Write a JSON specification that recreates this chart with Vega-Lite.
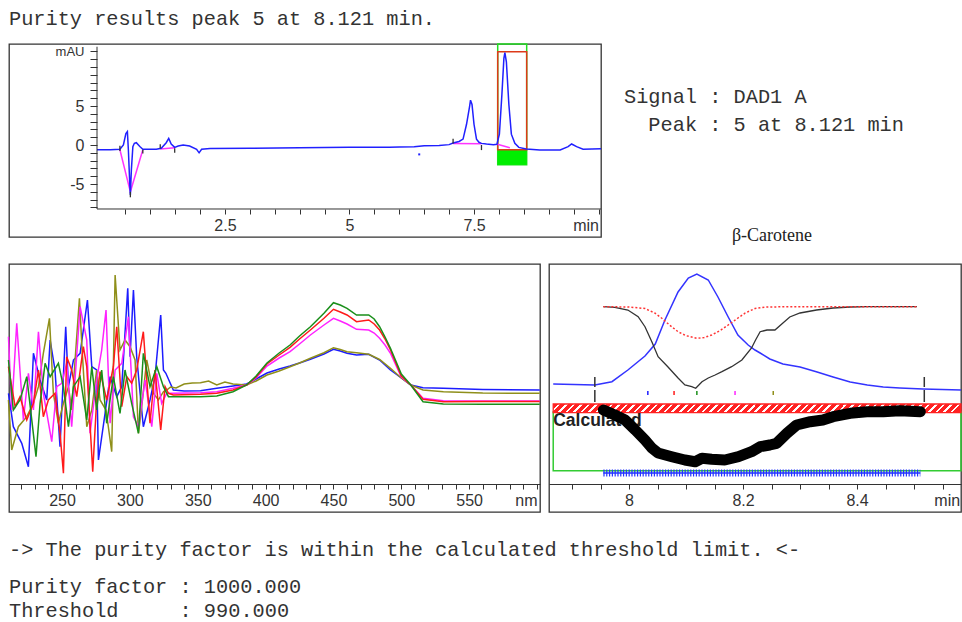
{
  "$schema": "https://vega.github.io/schema/vega-lite/v6.json",
  "background": "white",
  "padding": {"left": 4, "top": 8, "right": 0, "bottom": 0},
  "autosize": {"type": "pad"},
  "spacing": 18,
  "config": {
    "view": {"stroke": "#333333", "strokeWidth": 1.3},
    "axis": {"grid": false, "labelFont": "Liberation Sans", "labelFontSize": 16, "labelColor": "#333333", "tickColor": "#333333", "domainColor": "#333333", "tickSize": 5, "labelPadding": 3, "labelFlush": false, "labelOverlap": false}
  },
  "datasets": {
    "chrom": [
      {"t": -0.07, "a": -0.62}, {"t": 0.2, "a": -0.6}, {"t": 0.39, "a": -0.55}, {"t": 0.46, "a": 0}, {"t": 0.51, "a": 1.48}, {"t": 0.54, "a": 1.72}, {"t": 0.56, "a": -0.6}, {"t": 0.59, "a": -5.3}, {"t": 0.6, "a": -6.4}, {"t": 0.62, "a": -3.2}, {"t": 0.65, "a": -0.2}, {"t": 0.68, "a": 0.22}, {"t": 0.72, "a": 0.3}, {"t": 0.79, "a": -0.2}, {"t": 0.85, "a": -0.55}, {"t": 1.12, "a": -0.55}, {"t": 1.22, "a": -0.42}, {"t": 1.32, "a": 0.3}, {"t": 1.37, "a": 0.85}, {"t": 1.42, "a": 0.13}, {"t": 1.49, "a": -0.3}, {"t": 1.56, "a": -0.13}, {"t": 1.66, "a": 0}, {"t": 1.79, "a": -0.13}, {"t": 1.93, "a": -0.55}, {"t": 1.98, "a": -1.0}, {"t": 2.03, "a": -0.55}, {"t": 2.2, "a": -0.45}, {"t": 3.0, "a": -0.42}, {"t": 4.0, "a": -0.35}, {"t": 5.0, "a": -0.3}, {"t": 5.8, "a": -0.28}, {"t": 6.0, "a": -0.25}, {"t": 6.3, "a": -0.22}, {"t": 6.5, "a": -0.1}, {"t": 6.8, "a": -0.05}, {"t": 7.0, "a": 0.05}, {"t": 7.08, "a": 0.25}, {"t": 7.2, "a": 0.45}, {"t": 7.28, "a": 0.76}, {"t": 7.35, "a": 2.66}, {"t": 7.41, "a": 4.9}, {"t": 7.43, "a": 5.75}, {"t": 7.46, "a": 5.2}, {"t": 7.5, "a": 2.66}, {"t": 7.55, "a": 0.76}, {"t": 7.6, "a": 0.35}, {"t": 7.65, "a": 0.21}, {"t": 7.75, "a": 0.13}, {"t": 7.89, "a": 0.04}, {"t": 7.96, "a": 0.1}, {"t": 8.01, "a": 1.39}, {"t": 8.06, "a": 6.46}, {"t": 8.1, "a": 11.1}, {"t": 8.12, "a": 11.85}, {"t": 8.15, "a": 10.67}, {"t": 8.2, "a": 5.19}, {"t": 8.25, "a": 1.39}, {"t": 8.32, "a": 0.21}, {"t": 8.4, "a": -0.3}, {"t": 8.55, "a": -0.5}, {"t": 8.82, "a": -0.63}, {"t": 9.23, "a": -0.63}, {"t": 9.39, "a": -0.21}, {"t": 9.46, "a": 0.13}, {"t": 9.56, "a": -0.21}, {"t": 9.69, "a": -0.55}, {"t": 10.05, "a": -0.47}
    ],
    "cmag": [
      {"g": 1, "t": 0.39, "a": -0.6}, {"g": 1, "t": 0.6, "a": -6.0}, {"g": 1, "t": 0.85, "a": -0.6},
      {"g": 2, "t": 1.2, "a": -0.5}, {"g": 2, "t": 1.49, "a": -0.35},
      {"g": 3, "t": 7.08, "a": 0.2}, {"g": 3, "t": 7.65, "a": 0.15},
      {"g": 4, "t": 7.97, "a": 0.1}, {"g": 4, "t": 8.22, "a": -0.35}
    ],
    "cticks": [
      {"t": 0.39, "a": -0.1, "a2": -0.75}, {"t": 0.6, "a": -6.0, "a2": -6.7}, {"t": 0.85, "a": -0.6, "a2": -1.1}, {"t": 1.2, "a": 0.1, "a2": -0.45}, {"t": 1.49, "a": -0.4, "a2": -1.0}, {"t": 7.08, "a": 0.8, "a2": 0.2}, {"t": 7.65, "a": 0.0, "a2": -0.65}
    ],
    "caxes": [
      {"t": -0.07, "t2": 10.05, "a": -8.2, "a2": -8.2},
      {"t": -0.07, "t2": -0.07, "a": -8.2, "a2": 12.6}
    ],
    "spectra": [
      {"s": "blue", "w": 210.5, "a": 90.7}, {"s": "blue", "w": 214.1, "a": 57.3}, {"s": "blue", "w": 220.3, "a": 40.7}, {"s": "blue", "w": 225.2, "a": 17.3}, {"s": "blue", "w": 228.9, "a": 130.7}, {"s": "blue", "w": 233.8, "a": 104}, {"s": "blue", "w": 238.7, "a": 84}, {"s": "blue", "w": 241.2, "a": 144}, {"s": "blue", "w": 244.8, "a": 114}, {"s": "blue", "w": 248.5, "a": 37.3}, {"s": "blue", "w": 252.7, "a": 157.3}, {"s": "blue", "w": 254.7, "a": 97.3}, {"s": "blue", "w": 258.4, "a": 124}, {"s": "blue", "w": 263.3, "a": 130.7}, {"s": "blue", "w": 268.7, "a": 184}, {"s": "blue", "w": 271.9, "a": 117.3}, {"s": "blue", "w": 275.5, "a": 114}, {"s": "blue", "w": 276.8, "a": 24}, {"s": "blue", "w": 281.7, "a": 70.7}, {"s": "blue", "w": 285.4, "a": 107.3}, {"s": "blue", "w": 290.3, "a": 87.3}, {"s": "blue", "w": 294.0, "a": 97.3}, {"s": "blue", "w": 298.4, "a": 195.7}, {"s": "blue", "w": 300.1, "a": 127.3}, {"s": "blue", "w": 302.6, "a": 194}, {"s": "blue", "w": 305.0, "a": 127.3}, {"s": "blue", "w": 307.5, "a": 90.7}, {"s": "blue", "w": 309.9, "a": 57.3}, {"s": "blue", "w": 314.8, "a": 84}, {"s": "blue", "w": 318.5, "a": 107.3}, {"s": "blue", "w": 322.7, "a": 169}, {"s": "blue", "w": 324.7, "a": 114}, {"s": "blue", "w": 326.5, "a": 110.7}, {"s": "blue", "w": 329, "a": 103}, {"s": "blue", "w": 332, "a": 94}, {"s": "blue", "w": 340, "a": 93}, {"s": "blue", "w": 352, "a": 93.3}, {"s": "blue", "w": 364, "a": 95.7}, {"s": "blue", "w": 376, "a": 98}, {"s": "blue", "w": 386, "a": 100}, {"s": "blue", "w": 393, "a": 105}, {"s": "blue", "w": 401, "a": 111}, {"s": "blue", "w": 410, "a": 115}, {"s": "blue", "w": 418, "a": 118}, {"s": "blue", "w": 425, "a": 121}, {"s": "blue", "w": 433, "a": 124.7}, {"s": "blue", "w": 443, "a": 130}, {"s": "blue", "w": 450, "a": 134.7}, {"s": "blue", "w": 455, "a": 133}, {"s": "blue", "w": 460, "a": 130.7}, {"s": "blue", "w": 467, "a": 129}, {"s": "blue", "w": 476, "a": 129.7}, {"s": "blue", "w": 484, "a": 124}, {"s": "blue", "w": 492, "a": 114}, {"s": "blue", "w": 500, "a": 106}, {"s": "blue", "w": 507, "a": 99}, {"s": "blue", "w": 516, "a": 96.3}, {"s": "blue", "w": 531, "a": 95.7}, {"s": "blue", "w": 560, "a": 94.5}, {"s": "blue", "w": 602, "a": 94},
      {"s": "olive", "w": 210.5, "a": 84}, {"s": "olive", "w": 212.9, "a": 34}, {"s": "olive", "w": 217.8, "a": 57.3}, {"s": "olive", "w": 224.0, "a": 67.3}, {"s": "olive", "w": 228.9, "a": 80.7}, {"s": "olive", "w": 232.6, "a": 97.3}, {"s": "olive", "w": 236.2, "a": 130.7}, {"s": "olive", "w": 240.7, "a": 165.7}, {"s": "olive", "w": 243.6, "a": 90.7}, {"s": "olive", "w": 247.3, "a": 60.7}, {"s": "olive", "w": 251.0, "a": 80.7}, {"s": "olive", "w": 254.7, "a": 97.3}, {"s": "olive", "w": 257.1, "a": 74}, {"s": "olive", "w": 259.6, "a": 124}, {"s": "olive", "w": 262.8, "a": 185.7}, {"s": "olive", "w": 264.5, "a": 140.7}, {"s": "olive", "w": 268.2, "a": 57.3}, {"s": "olive", "w": 271.9, "a": 74}, {"s": "olive", "w": 275.5, "a": 114}, {"s": "olive", "w": 278.0, "a": 84}, {"s": "olive", "w": 282.4, "a": 74}, {"s": "olive", "w": 286.6, "a": 32.3}, {"s": "olive", "w": 289.1, "a": 209}, {"s": "olive", "w": 292.7, "a": 134}, {"s": "olive", "w": 296.4, "a": 144}, {"s": "olive", "w": 300.1, "a": 137.3}, {"s": "olive", "w": 303.8, "a": 124}, {"s": "olive", "w": 306.3, "a": 50.7}, {"s": "olive", "w": 308.7, "a": 77.3}, {"s": "olive", "w": 312.4, "a": 124}, {"s": "olive", "w": 317.3, "a": 90.7}, {"s": "olive", "w": 321.0, "a": 84}, {"s": "olive", "w": 324.7, "a": 92.3}, {"s": "olive", "w": 327.1, "a": 94}, {"s": "olive", "w": 330, "a": 97}, {"s": "olive", "w": 334, "a": 96}, {"s": "olive", "w": 340, "a": 100}, {"s": "olive", "w": 346, "a": 101}, {"s": "olive", "w": 352, "a": 101.3}, {"s": "olive", "w": 358, "a": 103}, {"s": "olive", "w": 364, "a": 99}, {"s": "olive", "w": 370, "a": 102}, {"s": "olive", "w": 376, "a": 100}, {"s": "olive", "w": 386, "a": 99}, {"s": "olive", "w": 393, "a": 103}, {"s": "olive", "w": 401, "a": 109}, {"s": "olive", "w": 410, "a": 113}, {"s": "olive", "w": 418, "a": 117.3}, {"s": "olive", "w": 425, "a": 121}, {"s": "olive", "w": 433, "a": 125.7}, {"s": "olive", "w": 443, "a": 131.3}, {"s": "olive", "w": 450, "a": 136.3}, {"s": "olive", "w": 455, "a": 134.5}, {"s": "olive", "w": 460, "a": 132.3}, {"s": "olive", "w": 467, "a": 131.3}, {"s": "olive", "w": 476, "a": 129.7}, {"s": "olive", "w": 484, "a": 124.5}, {"s": "olive", "w": 492, "a": 115.7}, {"s": "olive", "w": 500, "a": 106}, {"s": "olive", "w": 507, "a": 99}, {"s": "olive", "w": 516, "a": 94}, {"s": "olive", "w": 531, "a": 92.3}, {"s": "olive", "w": 560, "a": 91}, {"s": "olive", "w": 602, "a": 90.7},
      {"s": "magenta", "w": 210.5, "a": 147.3}, {"s": "magenta", "w": 212.9, "a": 74}, {"s": "magenta", "w": 216.6, "a": 160.7}, {"s": "magenta", "w": 221.5, "a": 64}, {"s": "magenta", "w": 225.2, "a": 110.7}, {"s": "magenta", "w": 228.9, "a": 74}, {"s": "magenta", "w": 232.6, "a": 152.3}, {"s": "magenta", "w": 236.2, "a": 90.7}, {"s": "magenta", "w": 242.4, "a": 42.3}, {"s": "magenta", "w": 246.1, "a": 97.3}, {"s": "magenta", "w": 249.8, "a": 100.7}, {"s": "magenta", "w": 253.4, "a": 120.7}, {"s": "magenta", "w": 257.1, "a": 57.3}, {"s": "magenta", "w": 263.3, "a": 177.3}, {"s": "magenta", "w": 268.2, "a": 144}, {"s": "magenta", "w": 270.6, "a": 50.7}, {"s": "magenta", "w": 275.5, "a": 104}, {"s": "magenta", "w": 279.2, "a": 134}, {"s": "magenta", "w": 282.4, "a": 174}, {"s": "magenta", "w": 285.4, "a": 60.7}, {"s": "magenta", "w": 289.1, "a": 114}, {"s": "magenta", "w": 294.0, "a": 120.7}, {"s": "magenta", "w": 298.9, "a": 167.3}, {"s": "magenta", "w": 302.6, "a": 67.3}, {"s": "magenta", "w": 306.3, "a": 57.3}, {"s": "magenta", "w": 311.2, "a": 104}, {"s": "magenta", "w": 316.1, "a": 57.3}, {"s": "magenta", "w": 319.8, "a": 110.7}, {"s": "magenta", "w": 323.4, "a": 80.7}, {"s": "magenta", "w": 327.1, "a": 90.7}, {"s": "magenta", "w": 332, "a": 90.7}, {"s": "magenta", "w": 352, "a": 91.3}, {"s": "magenta", "w": 364, "a": 92.3}, {"s": "magenta", "w": 376, "a": 95.7}, {"s": "magenta", "w": 386, "a": 99}, {"s": "magenta", "w": 393, "a": 106}, {"s": "magenta", "w": 401, "a": 118}, {"s": "magenta", "w": 410, "a": 126}, {"s": "magenta", "w": 418, "a": 132.3}, {"s": "magenta", "w": 425, "a": 140}, {"s": "magenta", "w": 433, "a": 149}, {"s": "magenta", "w": 443, "a": 159}, {"s": "magenta", "w": 450, "a": 165.7}, {"s": "magenta", "w": 455, "a": 163}, {"s": "magenta", "w": 460, "a": 160}, {"s": "magenta", "w": 467, "a": 154.7}, {"s": "magenta", "w": 476, "a": 154}, {"s": "magenta", "w": 480, "a": 151}, {"s": "magenta", "w": 484, "a": 145.7}, {"s": "magenta", "w": 488, "a": 139}, {"s": "magenta", "w": 492, "a": 130.7}, {"s": "magenta", "w": 500, "a": 107}, {"s": "magenta", "w": 507, "a": 99}, {"s": "magenta", "w": 516, "a": 85.7}, {"s": "magenta", "w": 531, "a": 83.3}, {"s": "magenta", "w": 560, "a": 83}, {"s": "magenta", "w": 602, "a": 83},
      {"s": "red", "w": 210.5, "a": 117.3}, {"s": "red", "w": 215.4, "a": 77.3}, {"s": "red", "w": 219.0, "a": 87.3}, {"s": "red", "w": 224.0, "a": 64}, {"s": "red", "w": 228.9, "a": 80.7}, {"s": "red", "w": 232.6, "a": 114}, {"s": "red", "w": 236.2, "a": 67.3}, {"s": "red", "w": 239.9, "a": 84}, {"s": "red", "w": 244.8, "a": 90.7}, {"s": "red", "w": 248.5, "a": 50.7}, {"s": "red", "w": 251.0, "a": 10.7}, {"s": "red", "w": 253.4, "a": 127.3}, {"s": "red", "w": 257.1, "a": 114}, {"s": "red", "w": 260.8, "a": 87.3}, {"s": "red", "w": 265.7, "a": 137.3}, {"s": "red", "w": 268.2, "a": 117.3}, {"s": "red", "w": 272.6, "a": 12.3}, {"s": "red", "w": 275.5, "a": 84}, {"s": "red", "w": 278.0, "a": 112.3}, {"s": "red", "w": 282.9, "a": 84}, {"s": "red", "w": 287.8, "a": 117.3}, {"s": "red", "w": 290.3, "a": 157.3}, {"s": "red", "w": 294.0, "a": 77.3}, {"s": "red", "w": 297.7, "a": 107.3}, {"s": "red", "w": 301.3, "a": 100.7}, {"s": "red", "w": 305.0, "a": 114}, {"s": "red", "w": 309.9, "a": 152.3}, {"s": "red", "w": 314.8, "a": 60.7}, {"s": "red", "w": 318.5, "a": 114}, {"s": "red", "w": 322.7, "a": 54}, {"s": "red", "w": 325.9, "a": 97.3}, {"s": "red", "w": 328.4, "a": 90.7}, {"s": "red", "w": 332, "a": 89}, {"s": "red", "w": 352, "a": 89.7}, {"s": "red", "w": 364, "a": 90.7}, {"s": "red", "w": 376, "a": 94}, {"s": "red", "w": 386, "a": 99}, {"s": "red", "w": 393, "a": 107}, {"s": "red", "w": 401, "a": 120}, {"s": "red", "w": 410, "a": 129}, {"s": "red", "w": 418, "a": 136.7}, {"s": "red", "w": 425, "a": 145}, {"s": "red", "w": 433, "a": 154}, {"s": "red", "w": 443, "a": 165.7}, {"s": "red", "w": 450, "a": 174.7}, {"s": "red", "w": 455, "a": 172}, {"s": "red", "w": 460, "a": 169}, {"s": "red", "w": 467, "a": 162.3}, {"s": "red", "w": 476, "a": 164}, {"s": "red", "w": 480, "a": 160}, {"s": "red", "w": 484, "a": 154}, {"s": "red", "w": 488, "a": 145}, {"s": "red", "w": 492, "a": 134}, {"s": "red", "w": 500, "a": 108}, {"s": "red", "w": 507, "a": 99}, {"s": "red", "w": 516, "a": 84.7}, {"s": "red", "w": 531, "a": 82.3}, {"s": "red", "w": 560, "a": 82.5}, {"s": "red", "w": 602, "a": 82.5},
      {"s": "green", "w": 210.5, "a": 124}, {"s": "green", "w": 214.1, "a": 74}, {"s": "green", "w": 219.0, "a": 84}, {"s": "green", "w": 224.0, "a": 107.3}, {"s": "green", "w": 230.8, "a": 27.3}, {"s": "green", "w": 233.8, "a": 80.7}, {"s": "green", "w": 237.5, "a": 120.7}, {"s": "green", "w": 241.2, "a": 107.3}, {"s": "green", "w": 247.3, "a": 120.7}, {"s": "green", "w": 251.0, "a": 97.3}, {"s": "green", "w": 254.7, "a": 57.3}, {"s": "green", "w": 258.4, "a": 97.3}, {"s": "green", "w": 263.3, "a": 107.3}, {"s": "green", "w": 268.2, "a": 64}, {"s": "green", "w": 271.9, "a": 117.3}, {"s": "green", "w": 275.5, "a": 74}, {"s": "green", "w": 279.2, "a": 114}, {"s": "green", "w": 282.9, "a": 60.7}, {"s": "green", "w": 287.8, "a": 107.3}, {"s": "green", "w": 292.7, "a": 70.7}, {"s": "green", "w": 296.4, "a": 114}, {"s": "green", "w": 301.3, "a": 80.7}, {"s": "green", "w": 306.3, "a": 50.7}, {"s": "green", "w": 309.9, "a": 130.7}, {"s": "green", "w": 314.8, "a": 97.3}, {"s": "green", "w": 319.8, "a": 117.3}, {"s": "green", "w": 324.7, "a": 97.3}, {"s": "green", "w": 328.4, "a": 87.3}, {"s": "green", "w": 332, "a": 87.3}, {"s": "green", "w": 352, "a": 87.3}, {"s": "green", "w": 364, "a": 88}, {"s": "green", "w": 376, "a": 92.3}, {"s": "green", "w": 386, "a": 99}, {"s": "green", "w": 393, "a": 108}, {"s": "green", "w": 401, "a": 121}, {"s": "green", "w": 410, "a": 131}, {"s": "green", "w": 418, "a": 139}, {"s": "green", "w": 425, "a": 148}, {"s": "green", "w": 433, "a": 157.3}, {"s": "green", "w": 443, "a": 170.7}, {"s": "green", "w": 450, "a": 181.3}, {"s": "green", "w": 455, "a": 179}, {"s": "green", "w": 460, "a": 175.7}, {"s": "green", "w": 467, "a": 169}, {"s": "green", "w": 476, "a": 169}, {"s": "green", "w": 480, "a": 165}, {"s": "green", "w": 484, "a": 157.3}, {"s": "green", "w": 488, "a": 147}, {"s": "green", "w": 492, "a": 135.7}, {"s": "green", "w": 500, "a": 110}, {"s": "green", "w": 507, "a": 99}, {"s": "green", "w": 516, "a": 82.3}, {"s": "green", "w": 531, "a": 80}, {"s": "green", "w": 560, "a": 79.7}, {"s": "green", "w": 602, "a": 79.7}
    ],
    "pblue": [
      {"t": 7.867, "v": 100}, {"t": 7.94, "v": 99}, {"t": 7.97, "v": 102.3}, {"t": 7.998, "v": 114}, {"t": 8.028, "v": 128}, {"t": 8.046, "v": 140}, {"t": 8.063, "v": 164}, {"t": 8.086, "v": 192}, {"t": 8.104, "v": 206}, {"t": 8.119, "v": 210}, {"t": 8.139, "v": 204}, {"t": 8.156, "v": 187}, {"t": 8.174, "v": 167}, {"t": 8.191, "v": 149}, {"t": 8.209, "v": 139}, {"t": 8.221, "v": 134}, {"t": 8.23, "v": 131}, {"t": 8.247, "v": 125}, {"t": 8.27, "v": 120}, {"t": 8.3, "v": 117}, {"t": 8.33, "v": 112}, {"t": 8.358, "v": 107}, {"t": 8.388, "v": 102}, {"t": 8.418, "v": 99}, {"t": 8.446, "v": 97}, {"t": 8.475, "v": 96}, {"t": 8.516, "v": 95}, {"t": 8.5824, "v": 94}
    ],
    "psim": [
      {"t": 7.955, "v": 177.3}, {"t": 7.975, "v": 176.7}, {"t": 7.998, "v": 174}, {"t": 8.016, "v": 167.3}, {"t": 8.028, "v": 157.3}, {"t": 8.04, "v": 142.3}, {"t": 8.051, "v": 127.3}, {"t": 8.068, "v": 117.3}, {"t": 8.086, "v": 106}, {"t": 8.098, "v": 99}, {"t": 8.11, "v": 97.3}, {"t": 8.117, "v": 95.7}, {"t": 8.128, "v": 102.3}, {"t": 8.139, "v": 106}, {"t": 8.151, "v": 109}, {"t": 8.163, "v": 112.3}, {"t": 8.18, "v": 117.3}, {"t": 8.198, "v": 124}, {"t": 8.215, "v": 136}, {"t": 8.222, "v": 144}, {"t": 8.23, "v": 152.3}, {"t": 8.242, "v": 154}, {"t": 8.256, "v": 154}, {"t": 8.27, "v": 161}, {"t": 8.282, "v": 167}, {"t": 8.3, "v": 171}, {"t": 8.329, "v": 174}, {"t": 8.358, "v": 176}, {"t": 8.388, "v": 177}, {"t": 8.418, "v": 177.3}, {"t": 8.505, "v": 177.3}
    ],
    "pred": [
      {"t": 7.955, "v": 177.3}, {"t": 8.0, "v": 177}, {"t": 8.028, "v": 175.5}, {"t": 8.045, "v": 171}, {"t": 8.057, "v": 166}, {"t": 8.07, "v": 159.5}, {"t": 8.086, "v": 152.3}, {"t": 8.1, "v": 148.3}, {"t": 8.119, "v": 145.7}, {"t": 8.132, "v": 146.5}, {"t": 8.145, "v": 149}, {"t": 8.16, "v": 153.5}, {"t": 8.174, "v": 159}, {"t": 8.19, "v": 165.5}, {"t": 8.204, "v": 171}, {"t": 8.221, "v": 175.5}, {"t": 8.24, "v": 177}, {"t": 8.27, "v": 177.2}, {"t": 8.505, "v": 177.3}
    ],
    "ppur": [
      {"t": 7.955, "v": 74}, {"t": 7.975, "v": 69}, {"t": 7.993, "v": 64}, {"t": 8.011, "v": 54}, {"t": 8.028, "v": 44}, {"t": 8.04, "v": 36}, {"t": 8.051, "v": 31}, {"t": 8.075, "v": 27.3}, {"t": 8.098, "v": 24}, {"t": 8.116, "v": 22.3}, {"t": 8.128, "v": 25.7}, {"t": 8.145, "v": 24.7}, {"t": 8.168, "v": 24}, {"t": 8.192, "v": 27.3}, {"t": 8.215, "v": 32.3}, {"t": 8.23, "v": 37.3}, {"t": 8.247, "v": 39}, {"t": 8.259, "v": 40.7}, {"t": 8.277, "v": 50.7}, {"t": 8.294, "v": 59}, {"t": 8.318, "v": 62.3}, {"t": 8.34, "v": 64}, {"t": 8.358, "v": 67.3}, {"t": 8.388, "v": 70.7}, {"t": 8.417, "v": 72.3}, {"t": 8.446, "v": 72.3}, {"t": 8.475, "v": 73.3}, {"t": 8.511, "v": 72.3}
    ],
    "pcross": [{"t": 7.955, "v": 11}, {"t": 8.511, "v": 11}],
    "pmark": [
      {"t": 8.033, "s": "blue", "v": 89, "v2": 93}, {"t": 8.079, "s": "red", "v": 89, "v2": 93}, {"t": 8.119, "s": "green", "v": 89, "v2": 93}, {"t": 8.186, "s": "magenta", "v": 89, "v2": 93}, {"t": 8.253, "s": "olive", "v": 89, "v2": 93}
    ],
    "pbound": [{"t": 7.94, "v": 82, "v2": 107}, {"t": 8.518, "v": 82, "v2": 107}]
  },
  "vconcat": [
    {
      "bounds": "flush",
      "spacing": 23,
      "hconcat": [
        {
          "width": 592,
          "height": 193,
          "title": {"text": "Purity results peak 5 at 8.121 min.", "anchor": "start", "frame": "group", "font": "Liberation Mono", "fontSize": 20.3, "fontWeight": "normal", "color": "#333333", "offset": -2, "baseline": "alphabetic"},
          "encoding": {
            "x": {"field": "t", "type": "quantitative", "scale": {"domain": [-1.837, 10.05], "nice": false, "zero": false},
              "axis": {"orient": "bottom", "offset": -28, "title": null, "domain": false, "values": [0.5, 1, 1.5, 2, 2.5, 3, 3.5, 4, 4.5, 5, 5.5, 6, 6.5, 7, 7.5, 8, 8.5, 9, 9.5, 10],
                "labelExpr": "datum.value == 2.5 ? '2.5' : datum.value == 5 ? '5' : datum.value == 7.5 ? '7.5' : datum.value == 10 ? 'min' : ''",
                "labelAlign": {"condition": {"test": "datum.value == 10", "value": "right"}, "value": "center"}}},
            "y": {"field": "a", "type": "quantitative", "scale": {"domain": [-11.79, 12.95], "nice": false, "zero": false},
              "axis": {"orient": "left", "offset": -88, "title": null, "domain": false, "tickSize": 7, "labelPadding": 6, "values": [-8, -7, -6, -5, -4, -3, -2, -1, 0, 1, 2, 3, 4, 5, 6, 7, 8, 9, 10, 11, 12],
                "labelExpr": "datum.value == 12 ? 'mAU' : datum.value == 5 ? '5' : datum.value == 0 ? '0' : datum.value == -5 ? '-5' : ''",
                "labelFontSize": {"condition": {"test": "datum.value == 12", "value": 13}, "value": 16}}}
          },
          "layer": [
            {"data": {"values": [{"t": 7.976, "t2": 8.558, "a": -2.53, "a2": 12.95}]}, "mark": {"type": "rect", "fillOpacity": 0, "stroke": "#22dd22", "strokeWidth": 1.5}, "encoding": {"x2": {"field": "t2"}, "y2": {"field": "a2"}}},
            {"data": {"values": [{"t": 7.976, "t2": 8.558, "a": -2.53, "a2": -0.6}]}, "mark": {"type": "rect", "fill": "#00ee00"}, "encoding": {"x2": {"field": "t2"}, "y2": {"field": "a2"}}},
            {"data": {"values": [{"t": 7.976, "t2": 8.558, "a": -0.6, "a2": 11.96}]}, "mark": {"type": "rect", "fillOpacity": 0, "stroke": "#dd3a1a", "strokeWidth": 1.5}, "encoding": {"x2": {"field": "t2"}, "y2": {"field": "a2"}}},
            {"data": {"name": "cmag"}, "mark": {"type": "line", "color": "#ff33ff", "strokeWidth": 1.5}, "encoding": {"detail": {"field": "g"}}},
            {"data": {"name": "chrom"}, "mark": {"type": "line", "color": "#2020ff", "strokeWidth": 1.5}, "encoding": {}},
            {"data": {"name": "cticks"}, "mark": {"type": "rule", "color": "#333333", "strokeWidth": 1.3}, "encoding": {"y2": {"field": "a2"}}},
            {"data": {"name": "caxes"}, "mark": {"type": "rule", "color": "#333333", "strokeWidth": 1}, "encoding": {"x2": {"field": "t2"}, "y2": {"field": "a2"}}},
            {"data": {"values": [{"t": 6.4, "a": -1.2}]}, "mark": {"type": "square", "color": "#2020ff", "size": 4, "opacity": 1}, "encoding": {}}
          ]
        },
        {
          "width": 330,
          "height": 193,
          "view": {"stroke": null},
          "encoding": {
            "x": {"field": "col", "type": "quantitative", "scale": {"domain": [0, 27.09], "nice": false, "zero": false}, "axis": null},
            "y": {"field": "line", "type": "quantitative", "scale": {"domain": [-1.893, 5.0], "nice": false, "zero": false, "reverse": true}, "axis": null},
            "text": {"field": "text"}
          },
          "layer": [
            {
              "data": {"values": [{"col": 0, "line": 0, "text": "Signal : DAD1 A"}, {"col": 2, "line": 1, "text": "Peak : 5 at 8.121 min"}]},
              "mark": {"type": "text", "align": "left", "baseline": "middle", "font": "Liberation Mono", "fontSize": 20.3, "color": "#333333"}
            },
            {
              "data": {"values": [{"col": 12.15, "line": 4.96, "text": "β-Carotene"}]},
              "mark": {"type": "text", "align": "center", "baseline": "middle", "font": "Liberation Serif", "fontSize": 18, "color": "#222222"}
            }
          ]
        }
      ]
    },
    {
      "bounds": "flush",
      "spacing": 9,
      "hconcat": [
        {
          "width": 531,
          "height": 248,
          "data": {"name": "spectra"},
          "mark": {"type": "line", "strokeWidth": 1.5},
          "encoding": {
            "x": {"field": "w", "type": "quantitative", "scale": {"domain": [210.9, 602.2], "nice": false, "zero": false},
              "axis": {"orient": "bottom", "offset": -28, "title": null, "values": [220, 230, 240, 250, 260, 270, 280, 290, 300, 310, 320, 330, 340, 350, 360, 370, 380, 390, 400, 410, 420, 430, 440, 450, 460, 470, 480, 490, 500, 510, 520, 530, 540, 550, 560, 570, 580, 590, 600],
                "labelExpr": "datum.value == 600 ? 'nm' : (datum.value % 50 == 0 ? datum.label : '')",
                "labelAlign": {"condition": {"test": "datum.value == 600", "value": "right"}, "value": "center"}}},
            "y": {"field": "a", "type": "quantitative", "scale": {"domain": [-28, 220], "nice": false, "zero": false}, "axis": null},
            "color": {"field": "s", "type": "nominal", "legend": null, "scale": {"domain": ["blue", "olive", "magenta", "red", "green"], "range": ["#1c1cff", "#8f8f1a", "#ff22ff", "#ff1a1a", "#1a8f1a"]}}
          }
        },
        {
          "width": 412,
          "height": 248,
          "encoding": {
            "x": {"field": "t", "type": "quantitative", "scale": {"domain": [7.8596, 8.5824], "nice": false, "zero": false},
              "axis": {"orient": "bottom", "offset": -28, "title": null, "values": [7.9, 7.95, 8, 8.05, 8.1, 8.15, 8.2, 8.25, 8.3, 8.35, 8.4, 8.45, 8.5, 8.55, 8.58],
                "labelExpr": "abs(datum.value - 8) < 0.001 ? '8' : abs(datum.value - 8.2) < 0.001 ? '8.2' : abs(datum.value - 8.4) < 0.001 ? '8.4' : datum.value > 8.57 ? 'min' : ''",
                "labelAlign": {"condition": {"test": "datum.value > 8.57", "value": "right"}, "value": "center"},
                "tickOpacity": {"condition": {"test": "datum.value > 8.57", "value": 0}, "value": 1}}},
            "y": {"field": "v", "type": "quantitative", "scale": {"domain": [-28, 220], "nice": false, "zero": false}, "axis": null}
          },
          "layer": [
            {"data": {"values": [{"t": 7.867, "t2": 8.5824, "v": 13.3, "v2": 72}]}, "mark": {"type": "rect", "fillOpacity": 0, "stroke": "#33cc33", "strokeWidth": 1.5}, "encoding": {"x2": {"field": "t2"}, "y2": {"field": "v2"}}},
            {"data": {"values": [{"t": 7.867, "t2": 8.5824, "v": 71.3, "v2": 80}]}, "mark": {"type": "rect", "stroke": "#ff2222", "strokeWidth": 1.3,
              "fill": {"gradient": "linear", "x1": 0, "y1": 0, "x2": 1, "y2": 0.0213, "stops": [
                {"offset": 0, "color": "#f22"}, {"offset": 0.0122, "color": "#f22"}, {"offset": 0.0122, "color": "#fff"}, {"offset": 0.0185, "color": "#fff"},
                {"offset": 0.0185, "color": "#f22"}, {"offset": 0.0307, "color": "#f22"}, {"offset": 0.0307, "color": "#fff"}, {"offset": 0.037, "color": "#fff"},
                {"offset": 0.037, "color": "#f22"}, {"offset": 0.0492, "color": "#f22"}, {"offset": 0.0492, "color": "#fff"}, {"offset": 0.0555, "color": "#fff"},
                {"offset": 0.0555, "color": "#f22"}, {"offset": 0.0677, "color": "#f22"}, {"offset": 0.0677, "color": "#fff"}, {"offset": 0.074, "color": "#fff"},
                {"offset": 0.074, "color": "#f22"}, {"offset": 0.0862, "color": "#f22"}, {"offset": 0.0862, "color": "#fff"}, {"offset": 0.0925, "color": "#fff"},
                {"offset": 0.0925, "color": "#f22"}, {"offset": 0.1047, "color": "#f22"}, {"offset": 0.1047, "color": "#fff"}, {"offset": 0.111, "color": "#fff"},
                {"offset": 0.111, "color": "#f22"}, {"offset": 0.1232, "color": "#f22"}, {"offset": 0.1232, "color": "#fff"}, {"offset": 0.1295, "color": "#fff"},
                {"offset": 0.1295, "color": "#f22"}, {"offset": 0.1417, "color": "#f22"}, {"offset": 0.1417, "color": "#fff"}, {"offset": 0.148, "color": "#fff"},
                {"offset": 0.148, "color": "#f22"}, {"offset": 0.1602, "color": "#f22"}, {"offset": 0.1602, "color": "#fff"}, {"offset": 0.1665, "color": "#fff"},
                {"offset": 0.1665, "color": "#f22"}, {"offset": 0.1787, "color": "#f22"}, {"offset": 0.1787, "color": "#fff"}, {"offset": 0.185, "color": "#fff"},
                {"offset": 0.185, "color": "#f22"}, {"offset": 0.1972, "color": "#f22"}, {"offset": 0.1972, "color": "#fff"}, {"offset": 0.2035, "color": "#fff"},
                {"offset": 0.2035, "color": "#f22"}, {"offset": 0.2157, "color": "#f22"}, {"offset": 0.2157, "color": "#fff"}, {"offset": 0.222, "color": "#fff"},
                {"offset": 0.222, "color": "#f22"}, {"offset": 0.2342, "color": "#f22"}, {"offset": 0.2342, "color": "#fff"}, {"offset": 0.2405, "color": "#fff"},
                {"offset": 0.2405, "color": "#f22"}, {"offset": 0.2527, "color": "#f22"}, {"offset": 0.2527, "color": "#fff"}, {"offset": 0.259, "color": "#fff"},
                {"offset": 0.259, "color": "#f22"}, {"offset": 0.2712, "color": "#f22"}, {"offset": 0.2712, "color": "#fff"}, {"offset": 0.2775, "color": "#fff"},
                {"offset": 0.2775, "color": "#f22"}, {"offset": 0.2897, "color": "#f22"}, {"offset": 0.2897, "color": "#fff"}, {"offset": 0.296, "color": "#fff"},
                {"offset": 0.296, "color": "#f22"}, {"offset": 0.3082, "color": "#f22"}, {"offset": 0.3082, "color": "#fff"}, {"offset": 0.3145, "color": "#fff"},
                {"offset": 0.3145, "color": "#f22"}, {"offset": 0.3267, "color": "#f22"}, {"offset": 0.3267, "color": "#fff"}, {"offset": 0.333, "color": "#fff"},
                {"offset": 0.333, "color": "#f22"}, {"offset": 0.3452, "color": "#f22"}, {"offset": 0.3452, "color": "#fff"}, {"offset": 0.3515, "color": "#fff"},
                {"offset": 0.3515, "color": "#f22"}, {"offset": 0.3637, "color": "#f22"}, {"offset": 0.3637, "color": "#fff"}, {"offset": 0.37, "color": "#fff"},
                {"offset": 0.37, "color": "#f22"}, {"offset": 0.3822, "color": "#f22"}, {"offset": 0.3822, "color": "#fff"}, {"offset": 0.3885, "color": "#fff"},
                {"offset": 0.3885, "color": "#f22"}, {"offset": 0.4007, "color": "#f22"}, {"offset": 0.4007, "color": "#fff"}, {"offset": 0.407, "color": "#fff"},
                {"offset": 0.407, "color": "#f22"}, {"offset": 0.4192, "color": "#f22"}, {"offset": 0.4192, "color": "#fff"}, {"offset": 0.4255, "color": "#fff"},
                {"offset": 0.4255, "color": "#f22"}, {"offset": 0.4377, "color": "#f22"}, {"offset": 0.4377, "color": "#fff"}, {"offset": 0.444, "color": "#fff"},
                {"offset": 0.444, "color": "#f22"}, {"offset": 0.4562, "color": "#f22"}, {"offset": 0.4562, "color": "#fff"}, {"offset": 0.4625, "color": "#fff"},
                {"offset": 0.4625, "color": "#f22"}, {"offset": 0.4747, "color": "#f22"}, {"offset": 0.4747, "color": "#fff"}, {"offset": 0.481, "color": "#fff"},
                {"offset": 0.481, "color": "#f22"}, {"offset": 0.4932, "color": "#f22"}, {"offset": 0.4932, "color": "#fff"}, {"offset": 0.4995, "color": "#fff"},
                {"offset": 0.4995, "color": "#f22"}, {"offset": 0.5117, "color": "#f22"}, {"offset": 0.5117, "color": "#fff"}, {"offset": 0.518, "color": "#fff"},
                {"offset": 0.518, "color": "#f22"}, {"offset": 0.5302, "color": "#f22"}, {"offset": 0.5302, "color": "#fff"}, {"offset": 0.5365, "color": "#fff"},
                {"offset": 0.5365, "color": "#f22"}, {"offset": 0.5487, "color": "#f22"}, {"offset": 0.5487, "color": "#fff"}, {"offset": 0.555, "color": "#fff"},
                {"offset": 0.555, "color": "#f22"}, {"offset": 0.5672, "color": "#f22"}, {"offset": 0.5672, "color": "#fff"}, {"offset": 0.5735, "color": "#fff"},
                {"offset": 0.5735, "color": "#f22"}, {"offset": 0.5857, "color": "#f22"}, {"offset": 0.5857, "color": "#fff"}, {"offset": 0.592, "color": "#fff"},
                {"offset": 0.592, "color": "#f22"}, {"offset": 0.6042, "color": "#f22"}, {"offset": 0.6042, "color": "#fff"}, {"offset": 0.6105, "color": "#fff"},
                {"offset": 0.6105, "color": "#f22"}, {"offset": 0.6227, "color": "#f22"}, {"offset": 0.6227, "color": "#fff"}, {"offset": 0.629, "color": "#fff"},
                {"offset": 0.629, "color": "#f22"}, {"offset": 0.6412, "color": "#f22"}, {"offset": 0.6412, "color": "#fff"}, {"offset": 0.6475, "color": "#fff"},
                {"offset": 0.6475, "color": "#f22"}, {"offset": 0.6597, "color": "#f22"}, {"offset": 0.6597, "color": "#fff"}, {"offset": 0.666, "color": "#fff"},
                {"offset": 0.666, "color": "#f22"}, {"offset": 0.6782, "color": "#f22"}, {"offset": 0.6782, "color": "#fff"}, {"offset": 0.6845, "color": "#fff"},
                {"offset": 0.6845, "color": "#f22"}, {"offset": 0.6967, "color": "#f22"}, {"offset": 0.6967, "color": "#fff"}, {"offset": 0.703, "color": "#fff"},
                {"offset": 0.703, "color": "#f22"}, {"offset": 0.7152, "color": "#f22"}, {"offset": 0.7152, "color": "#fff"}, {"offset": 0.7215, "color": "#fff"},
                {"offset": 0.7215, "color": "#f22"}, {"offset": 0.7337, "color": "#f22"}, {"offset": 0.7337, "color": "#fff"}, {"offset": 0.74, "color": "#fff"},
                {"offset": 0.74, "color": "#f22"}, {"offset": 0.7522, "color": "#f22"}, {"offset": 0.7522, "color": "#fff"}, {"offset": 0.7585, "color": "#fff"},
                {"offset": 0.7585, "color": "#f22"}, {"offset": 0.7707, "color": "#f22"}, {"offset": 0.7707, "color": "#fff"}, {"offset": 0.777, "color": "#fff"},
                {"offset": 0.777, "color": "#f22"}, {"offset": 0.7892, "color": "#f22"}, {"offset": 0.7892, "color": "#fff"}, {"offset": 0.7955, "color": "#fff"},
                {"offset": 0.7955, "color": "#f22"}, {"offset": 0.8077, "color": "#f22"}, {"offset": 0.8077, "color": "#fff"}, {"offset": 0.814, "color": "#fff"},
                {"offset": 0.814, "color": "#f22"}, {"offset": 0.8262, "color": "#f22"}, {"offset": 0.8262, "color": "#fff"}, {"offset": 0.8325, "color": "#fff"},
                {"offset": 0.8325, "color": "#f22"}, {"offset": 0.8447, "color": "#f22"}, {"offset": 0.8447, "color": "#fff"}, {"offset": 0.851, "color": "#fff"},
                {"offset": 0.851, "color": "#f22"}, {"offset": 0.8632, "color": "#f22"}, {"offset": 0.8632, "color": "#fff"}, {"offset": 0.8695, "color": "#fff"},
                {"offset": 0.8695, "color": "#f22"}, {"offset": 0.8817, "color": "#f22"}, {"offset": 0.8817, "color": "#fff"}, {"offset": 0.888, "color": "#fff"},
                {"offset": 0.888, "color": "#f22"}, {"offset": 0.9002, "color": "#f22"}, {"offset": 0.9002, "color": "#fff"}, {"offset": 0.9065, "color": "#fff"},
                {"offset": 0.9065, "color": "#f22"}, {"offset": 0.9187, "color": "#f22"}, {"offset": 0.9187, "color": "#fff"}, {"offset": 0.925, "color": "#fff"},
                {"offset": 0.925, "color": "#f22"}, {"offset": 0.9372, "color": "#f22"}, {"offset": 0.9372, "color": "#fff"}, {"offset": 0.9435, "color": "#fff"},
                {"offset": 0.9435, "color": "#f22"}, {"offset": 0.9557, "color": "#f22"}, {"offset": 0.9557, "color": "#fff"}, {"offset": 0.962, "color": "#fff"},
                {"offset": 0.962, "color": "#f22"}, {"offset": 0.9742, "color": "#f22"}, {"offset": 0.9742, "color": "#fff"}, {"offset": 0.9805, "color": "#fff"},
                {"offset": 0.9805, "color": "#f22"}, {"offset": 0.9927, "color": "#f22"}, {"offset": 0.9927, "color": "#fff"}, {"offset": 0.999, "color": "#fff"},
                {"offset": 0.999, "color": "#f22"}, {"offset": 1, "color": "#f22"}
              ]}},
              "encoding": {"x2": {"field": "t2"}, "y2": {"field": "v2"}}},
            {"data": {"values": [{"t": 7.867, "v": 63, "label": "Calculated"}]}, "mark": {"type": "text", "align": "left", "baseline": "middle", "font": "Liberation Sans", "fontSize": 17.5, "fontWeight": "bold", "color": "#222222"}, "encoding": {"text": {"field": "label"}}},
            {"data": {"name": "ppur"}, "mark": {"type": "line", "color": "#000000", "strokeWidth": 11, "strokeCap": "round", "strokeJoin": "round"}, "encoding": {}},
            {"data": {"name": "pcross"}, "mark": {"type": "line", "color": "#2233ff", "strokeWidth": 7, "strokeDash": [1.2, 1.6]}, "encoding": {}},
            {"data": {"name": "pcross"}, "mark": {"type": "line", "color": "#2233ff", "strokeWidth": 1.3}, "encoding": {}},
            {"data": {"name": "pblue"}, "mark": {"type": "line", "color": "#3333ff", "strokeWidth": 1.5}, "encoding": {}},
            {"data": {"name": "psim"}, "mark": {"type": "line", "color": "#333333", "strokeWidth": 1.3}, "encoding": {}},
            {"data": {"name": "pred"}, "mark": {"type": "line", "color": "#ff3333", "strokeWidth": 1.5, "strokeDash": [2, 2]}, "encoding": {}},
            {"data": {"name": "pbound"}, "mark": {"type": "rule", "color": "#333333", "strokeWidth": 1.5, "strokeDash": [12, 3]}, "encoding": {"y2": {"field": "v2"}}},
            {"data": {"name": "pmark"}, "mark": {"type": "rule", "strokeWidth": 1.5}, "encoding": {"y2": {"field": "v2"}, "color": {"field": "s", "type": "nominal", "legend": null, "scale": {"domain": ["blue", "olive", "magenta", "red", "green"], "range": ["#1c1cff", "#8f8f1a", "#ff22ff", "#ff1a1a", "#1a8f1a"]}}}}
          ]
        }
      ]
    },
    {
      "width": 800,
      "height": 83,
      "view": {"stroke": null},
      "data": {"values": [
        {"col": 0, "line": 0, "text": "-> The purity factor is within the calculated threshold limit. <-"},
        {"col": 0, "line": 1.37, "text": "Purity factor : 1000.000"},
        {"col": 0, "line": 2.26, "text": "Threshold"},
        {"col": 14, "line": 2.26, "text": ": 990.000"}
      ]},
      "mark": {"type": "text", "align": "left", "baseline": "middle", "font": "Liberation Mono", "fontSize": 20.3, "color": "#333333"},
      "encoding": {
        "x": {"field": "col", "type": "quantitative", "scale": {"domain": [0, 65.68], "nice": false, "zero": false}, "axis": null},
        "y": {"field": "line", "type": "quantitative", "scale": {"domain": [-0.704, 2.37], "nice": false, "zero": false, "reverse": true}, "axis": null},
        "text": {"field": "text"}
      }
    }
  ]
}
